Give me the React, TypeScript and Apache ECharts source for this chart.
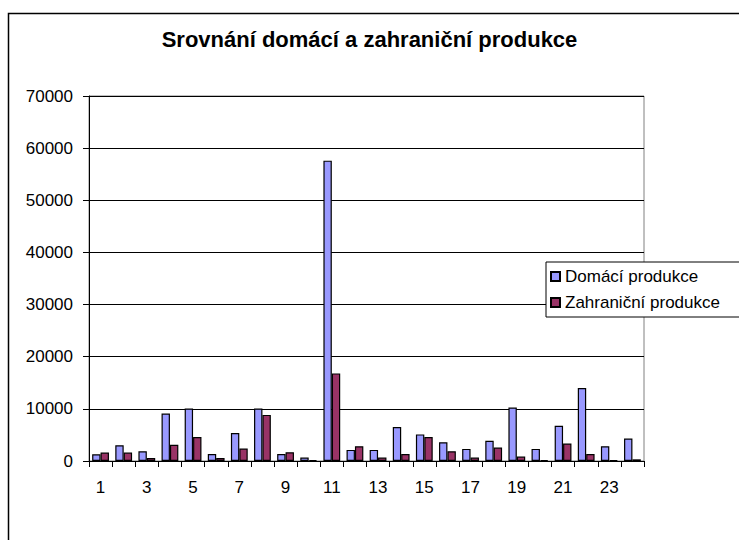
import React, { useEffect, useRef } from "react";
import * as echarts from "echarts";

const categories = ["1","2","3","4","5","6","7","8","9","10","11","12","13","14","15","16","17","18","19","20","21","22","23","24"];
const domaci = [1290, 3030, 1870, 9100, 10060, 1350, 5350, 10060, 1350, 650, 57600, 2130, 2130, 6520, 5100, 3610, 2320, 3870, 10260, 2320, 6770, 14000, 2840, 4320];
const zahranicni = [1610, 1610, 580, 3100, 4580, 580, 2390, 8840, 1680, 200, 16800, 2840, 650, 1350, 4580, 1870, 650, 2580, 840, 200, 3350, 1350, 130, 320];
const seriesNames = ["Domácí produkce", "Zahraniční produkce"];
const titleText = "Srovnání domácí a zahraniční produkce";

const FONT = "'Liberation Sans', Arial, sans-serif";

export default function App() {
  const ref = useRef<HTMLDivElement>(null);
  useEffect(() => {
    if (!ref.current) return;
    const chart = echarts.init(ref.current, undefined, { renderer: "svg" });
    chart.setOption({
      animation: false,
      backgroundColor: "#ffffff",
      graphic: [
        {
          type: "rect",
          left: 6,
          top: 11,
          shape: { x: 0, y: 0, width: 760, height: 560 },
          style: { fill: "none", stroke: "#000", lineWidth: 1.5 },
          z: 100,
          silent: true,
        },
      ],
      title: {
        text: titleText,
        left: "center",
        top: 28,
        padding: 0,
        textStyle: { fontFamily: FONT, fontSize: 22, fontWeight: "bold", color: "#000" },
      },
      legend: {
        orient: "vertical",
        left: 546,
        top: 262,
        padding: [6, 30, 6, 4],
        itemWidth: 9,
        itemHeight: 9,
        itemGap: 9,
        icon: "rect",
        backgroundColor: "#fff",
        borderColor: "#000",
        borderWidth: 1,
        borderRadius: 0,
        textStyle: { fontFamily: FONT, fontSize: 17, color: "#000", lineHeight: 17 },
        data: seriesNames,
        z: 10,
      },
      grid: {
        left: 89,
        right: 95,
        top: 96,
        bottom: 79,
        show: true,
        borderColor: "#808080",
        borderWidth: 1,
        backgroundColor: "transparent",
      },
      xAxis: {
        type: "category",
        data: categories,
        boundaryGap: true,
        axisLine: { lineStyle: { color: "#000", width: 1 } },
        axisTick: { show: true, interval: 0, length: 6, lineStyle: { color: "#000" } },
        axisLabel: { interval: 1, margin: 18, fontFamily: FONT, fontSize: 17, color: "#000" },
        splitLine: { show: false },
      },
      yAxis: {
        type: "value",
        min: 0,
        max: 70000,
        interval: 10000,
        axisLine: { show: true, lineStyle: { color: "#000", width: 1 } },
        axisTick: { show: true, length: 6, lineStyle: { color: "#000" } },
        axisLabel: {
          margin: 16,
          fontFamily: FONT,
          fontSize: 17,
          color: "#000",
          formatter: (v: number) => String(v),
        },
        splitLine: { show: true, lineStyle: { color: "#000", width: 1 } },
      },
      series: [
        {
          name: seriesNames[0],
          type: "bar",
          data: domaci,
          barWidth: 8.4,
          barGap: "0%",
          itemStyle: { color: "#9999FF", borderColor: "#000", borderWidth: 1.2 },
        },
        {
          name: seriesNames[1],
          type: "bar",
          data: zahranicni,
          barWidth: 8.4,
          barGap: "0%",
          itemStyle: { color: "#993366", borderColor: "#000", borderWidth: 1.2 },
        },
      ],
    });
    return () => chart.dispose();
  }, []);
  return (
    <div
      ref={ref}
      style={{ position: "fixed", left: 0, top: 0, width: 739, height: 540 }}
    />
  );
}
